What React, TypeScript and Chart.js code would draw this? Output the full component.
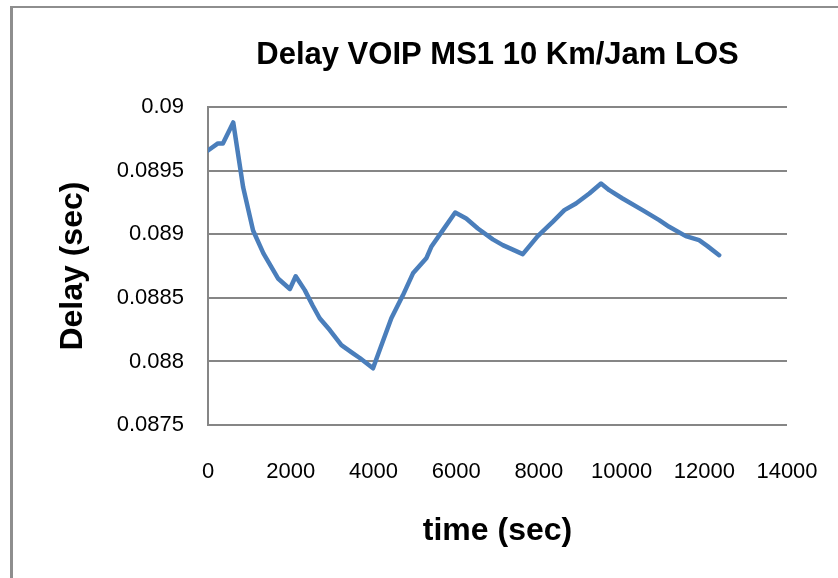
import React, { useEffect, useRef } from "react";
import { Chart, registerables } from "chart.js";

Chart.register(...registerables);

const timeSec = [
  0, 240, 360, 610, 850, 1090, 1340, 1700, 1980, 2120, 2340, 2530, 2700, 2945,
  3226, 3507, 3670, 3990, 4151, 4433, 4715, 4956, 5278, 5399, 5680, 5977, 6244,
  6525, 6887, 7128, 7611, 7973, 8335, 8617, 8898, 9220, 9503, 9703, 10024,
  10507, 10910, 11151, 11553, 11875, 12077, 12360,
];
const delaySec = [
  0.08966, 0.089715, 0.089715, 0.08988, 0.08937, 0.08903, 0.08885, 0.08865,
  0.08857, 0.08867, 0.088561, 0.08844, 0.08834, 0.088247, 0.088129, 0.088064,
  0.088027, 0.087946, 0.08809, 0.088339, 0.088522, 0.088693, 0.088811,
  0.088902, 0.089033, 0.089172, 0.089125, 0.089046, 0.08896, 0.088915,
  0.088844, 0.088986, 0.089098, 0.08919, 0.089243, 0.089321, 0.0894, 0.089347,
  0.089282, 0.08919, 0.089112, 0.089059, 0.088986, 0.088954, 0.088907,
  0.088836,
];
const xTicks = [0, 2000, 4000, 6000, 8000, 10000, 12000, 14000];
const yTicks = [0.0875, 0.088, 0.0885, 0.089, 0.0895, 0.09];
const yTickLabels = ["0.0875", "0.088", "0.0885", "0.089", "0.0895", "0.09"];

const chartTitle = "Delay VOIP MS1 10 Km/Jam LOS";
const xTitle = "time (sec)";
const yTitle = "Delay (sec)";

const FONT = "'Liberation Sans', Arial, sans-serif";
const GRID = "#868686";

export default function App() {
  const ref = useRef<HTMLCanvasElement | null>(null);

  useEffect(() => {
    if (!ref.current) return;
    const chart = new Chart(ref.current, {
      type: "scatter",
      data: {
        datasets: [
          {
            data: timeSec.map((t, i) => ({ x: t, y: delaySec[i] })),
            showLine: true,
            borderColor: "#4a7ebb",
            backgroundColor: "#4a7ebb",
            borderWidth: 4.5,
            pointRadius: 0,
            tension: 0,
            borderJoinStyle: "round",
            borderCapStyle: "round",
          },
        ],
      },
      options: {
        animation: false,
        responsive: false,
        maintainAspectRatio: false,
        layout: { padding: { left: 0, right: 51, top: 0, bottom: 0 } },
        plugins: {
          legend: { display: false },
          tooltip: { enabled: false },
          title: {
            display: true,
            text: chartTitle,
            fullSize: false,
            color: "#000",
            font: { family: FONT, size: 31, weight: "bold" },
            padding: { top: 37, bottom: 33 },
          },
        },
        scales: {
          x: {
            type: "linear",
            min: 0,
            max: 14000,
            afterBuildTicks: (s: any) => {
              s.ticks = xTicks.map((v) => ({ value: v }));
            },
            afterFit: (s: any) => {
              s.height = 153;
              s.paddingLeft = 0;
              s.paddingRight = 0;
            },
            grid: { display: false },
            border: { display: false },
            ticks: {
              color: "#000",
              font: { family: FONT, size: 22 },
              padding: 26,
              maxRotation: 0,
              autoSkip: false,
              callback: (v: any) => String(v),
            },
            title: {
              display: true,
              text: xTitle,
              color: "#000",
              font: { family: FONT, size: 32, weight: "bold" },
              padding: { top: 0, bottom: 28 },
            },
          },
          y: {
            type: "linear",
            min: 0.0875,
            max: 0.09,
            afterBuildTicks: (s: any) => {
              s.ticks = yTicks.map((v) => ({ value: v }));
            },
            afterFit: (s: any) => {
              s.width = 208;
            },
            grid: { color: GRID, lineWidth: 2, drawTicks: false },
            border: { display: true, color: GRID, width: 2 },
            ticks: {
              color: "#000",
              font: { family: FONT, size: 22 },
              padding: 24,
              autoSkip: false,
              callback: (v: any) => {
                const i = yTicks.findIndex((t) => Math.abs(t - v) < 1e-9);
                return i >= 0 ? yTickLabels[i] : "";
              },
            },
            title: {
              display: true,
              text: yTitle,
              color: "#000",
              font: { family: FONT, size: 32, weight: "bold" },
              padding: { top: 54, bottom: 0 },
            },
          },
        },
      },
    });
    return () => chart.destroy();
  }, []);

  return (
    <div style={{ position: "fixed", left: 0, top: 0, width: 838, height: 578, background: "#fff" }}>
      <div
        style={{
          position: "absolute",
          left: 10,
          top: 6,
          width: 828,
          height: 572,
          borderLeft: "3px solid #8e8e8e",
          borderTop: "2px solid #8e8e8e",
          boxSizing: "border-box",
        }}
      />
      <canvas
        ref={ref}
        width={838}
        height={578}
        style={{ position: "absolute", left: 0, top: 0, width: 838, height: 578 }}
      />
    </div>
  );
}
